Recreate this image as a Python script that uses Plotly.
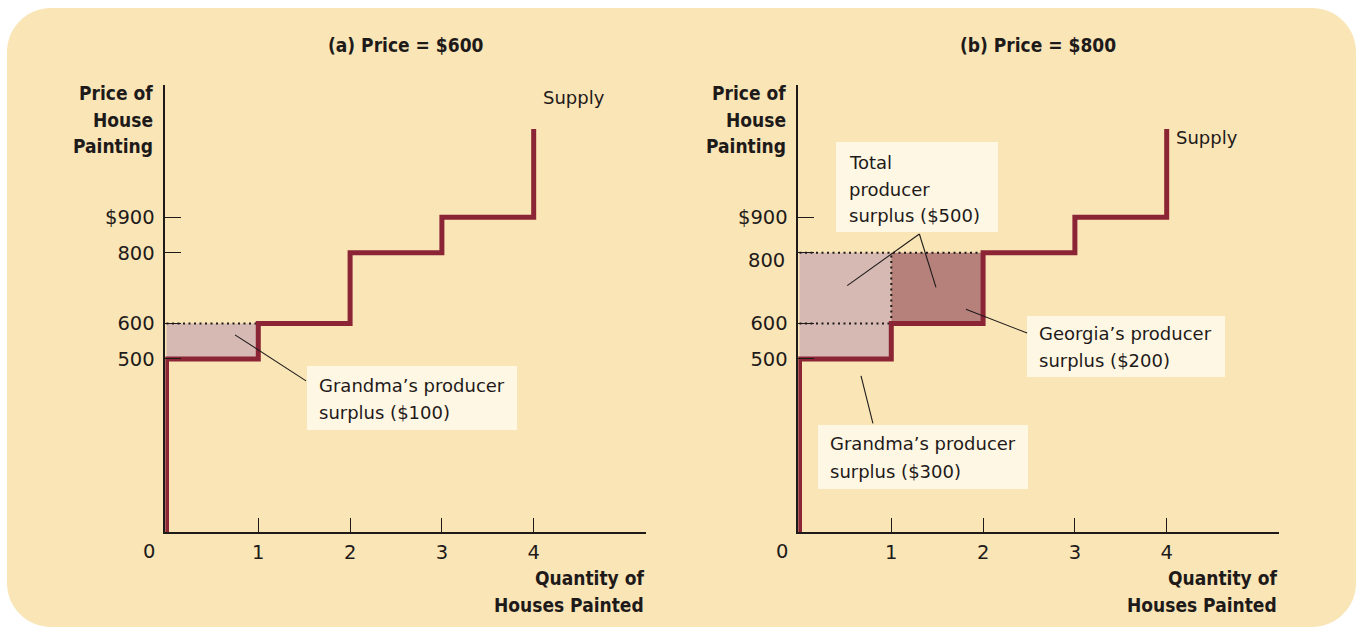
import plotly.graph_objects as go

W, H = 1358, 628

# ---- data -------------------------------------------------------------
sellers = ["Grandma", "Georgia", "Julie", "Mary"]
costs = [500, 600, 800, 900]          # each seller's cost of painting one house
supply_top = 1150                     # where the drawn supply curve stops
market_prices = [600, 800]            # price in panel (a) and panel (b)
panel_titles = ["(a) Price = $600", "(b) Price = $800"]
quantity_ticks = [1, 2, 3, 4]
price_ticks = [500, 600, 800, 900]
price_tick_text = ["500", "600", "800", "$900"]

# ---- styling ----------------------------------------------------------
BEIGE = "#f9e5b6"
CREAM = "#fef7e3"
MAROON = "#8b2535"
FILLS = ["#d6b9b3", "#b6817b"]
INK = "#1e1a1a"
REG = "DejaVu Sans, Verdana, sans-serif"
BOLD = "DejaVu Sans Condensed, DejaVu Sans, Arial, sans-serif"
TICK_SIZE = 19.5


def fx(px):
    return px / W


def fy(py):
    return 1 - py / H


# pixel geometry of the two plotting panels
panel_left = [165.3, 798.3]
panel_width = 480.2
panel_top, panel_bottom = 85, 532.3

fig = go.Figure()

# supply step curve built from sellers' costs
sx, sy = [0], [0]
for i, c in enumerate(costs):
    nxt = costs[i + 1] if i + 1 < len(costs) else supply_top
    sx += [0 if i == 0 else i, i + 1, i + 1]
    sy += [c, c, nxt]

for p, price in enumerate(market_prices):
    xa = "x" if p == 0 else "x2"
    ya = "y" if p == 0 else "y2"
    selling = [i for i, c in enumerate(costs) if c < price]
    # producer-surplus rectangles
    for i in selling:
        fig.add_trace(go.Scatter(
            x=[i, i + 1, i + 1, i, i], y=[costs[i], costs[i], price, price, costs[i]],
            mode="lines", fill="toself", fillcolor=FILLS[i % 2],
            line=dict(width=0), hoverinfo="skip", showlegend=False,
            xaxis=xa, yaxis=ya))
    # dotted outlines of the surplus areas
    n = len(selling)
    dots = [([0, n], [price, price])]
    for i in selling[1:]:
        dots.append(([0, i], [costs[i], costs[i]]))
        dots.append(([i, i], [costs[i], price]))
    for dx, dy in dots:
        fig.add_trace(go.Scatter(
            x=dx, y=dy, mode="lines",
            line=dict(color=INK, width=2, dash="2px,3.5px"),
            hoverinfo="skip", showlegend=False, xaxis=xa, yaxis=ya))
    # supply curve
    fig.add_trace(go.Scatter(
        x=sx, y=sy, mode="lines", line=dict(color=MAROON, width=5),
        hoverinfo="skip", showlegend=False, xaxis=xa, yaxis=ya))

axis_common = dict(
    showline=True, linecolor=INK, linewidth=1.5, showgrid=False, zeroline=False,
    ticks="inside", tickcolor=INK, tickwidth=1.3,
    tickfont=dict(family=REG, size=TICK_SIZE, color=INK), fixedrange=True,
)

layout_axes = {}
for p in range(2):
    sfx = "" if p == 0 else "2"
    layout_axes["xaxis" + sfx] = dict(
        axis_common, domain=[fx(panel_left[p]), fx(panel_left[p] + panel_width)],
        range=[-0.013, 5.218], tickvals=quantity_ticks, ticklen=15,
        ticklabelstandoff=2, anchor="y" + sfx)
    ytext = list(price_tick_text)
    if p == 1:
        ytext[2] = ""
    layout_axes["yaxis" + sfx] = dict(
        axis_common, domain=[fy(panel_bottom), fy(panel_top)],
        range=[10, 1274], tickvals=price_ticks, ticktext=ytext, ticklen=16,
        ticklabelstandoff=5, anchor="x" + sfx)

# ---- decorations --------------------------------------------------------
def rounded_rect(x0, y0, x1, y1, r):
    k = 0.5523 * r
    pts = [
        f"M{fx(x0 + r)},{fy(y0)}",
        f"L{fx(x1 - r)},{fy(y0)}",
        f"C{fx(x1 - r + k)},{fy(y0)} {fx(x1)},{fy(y0 + r - k)} {fx(x1)},{fy(y0 + r)}",
        f"L{fx(x1)},{fy(y1 - r)}",
        f"C{fx(x1)},{fy(y1 - r + k)} {fx(x1 - r + k)},{fy(y1)} {fx(x1 - r)},{fy(y1)}",
        f"L{fx(x0 + r)},{fy(y1)}",
        f"C{fx(x0 + r - k)},{fy(y1)} {fx(x0)},{fy(y1 - r + k)} {fx(x0)},{fy(y1 - r)}",
        f"L{fx(x0)},{fy(y0 + r)}",
        f"C{fx(x0)},{fy(y0 + r - k)} {fx(x0 + r - k)},{fy(y0)} {fx(x0 + r)},{fy(y0)}",
        "Z",
    ]
    return " ".join(pts)


shapes = [dict(type="path", xref="paper", yref="paper", layer="below",
               path=rounded_rect(7, 8, 1356, 627, 44),
               fillcolor=BEIGE, line=dict(width=0))]

annotations = []


def text(px, py, s, size=18, family=REG, anchor="left", color=INK):
    annotations.append(dict(
        x=fx(px), y=fy(py), xref="paper", yref="paper", text=s, showarrow=False,
        xanchor=anchor, yanchor="middle",
        font=dict(family=family, size=size, color=color)))


def label_box(x0, y0, x1, y1, lines, tx, ty0, step=27):
    shapes.append(dict(type="rect", xref="paper", yref="paper", layer="above",
                       x0=fx(x0), x1=fx(x1), y0=fy(y0), y1=fy(y1),
                       fillcolor=CREAM, line=dict(width=0)))
    for k, s in enumerate(lines):
        text(tx, ty0 + k * step, s)


def leader(ax, x0, y0, x1, y1):
    shapes.append(dict(type="line", xref=ax[0], yref=ax[1], x0=x0, y0=y0,
                       x1=x1, y1=y1, line=dict(color=INK, width=1.1)))


title_centers = [406, 1038]
for p in range(2):
    off = panel_left[p] - panel_left[0]
    # panel title
    text(title_centers[p], 45, f"<b>{panel_titles[p]}</b>",
         size=19, family=BOLD, anchor="center")
    # axis titles
    for k, s in enumerate(["Price of", "House", "Painting"]):
        text(155 + off, 92.5 + k * 27, f"<b>{s}</b>", size=19, family=BOLD, anchor="right")
    for k, s in enumerate(["Quantity of", "Houses Painted"]):
        text(646 + off, 578 + k * 27, f"<b>{s}</b>", size=19, family=BOLD, anchor="right")
    # origin label
    text(149 + off, 551, "0", size=TICK_SIZE, anchor="center")

# supply labels
for ax, yv in (("", 1240), ("2", 1127)):
    annotations.append(dict(x=4.08, y=yv, xref="x" + ax, yref="y" + ax, text="Supply",
                            showarrow=False, xanchor="left", yanchor="middle",
                            font=dict(family=REG, size=18, color=INK)))
# panel (b) "800" sits just under its dotted price line
annotations.append(dict(x=fx(154 + 633), y=800, xref="paper", yref="y2", text="800",
                        showarrow=False, xanchor="right", yanchor="middle", yshift=-8,
                        font=dict(family=REG, size=TICK_SIZE, color=INK)))

# surplus amounts computed from the data
surplus_a = {sellers[i]: market_prices[0] - c for i, c in enumerate(costs) if c < market_prices[0]}
surplus_b = {sellers[i]: market_prices[1] - c for i, c in enumerate(costs) if c < market_prices[1]}
total_b = sum(surplus_b.values())

label_box(307, 366, 517, 430,
          ["Grandma\u2019s producer", f"surplus (${surplus_a['Grandma']})"], 317, 385)
leader(("x", "y"), 0.746, 568, 1.52, 438)

label_box(836, 142, 998, 232, ["Total", "producer", f"surplus (${total_b})"], 847, 162)
leader(("x2", "y2"), 1.306, 853, 0.52, 707)
leader(("x2", "y2"), 1.306, 853, 1.487, 702)

label_box(1027, 316, 1225, 377,
          ["Georgia\u2019s producer", f"surplus (${surplus_b['Georgia']})"], 1037, 333)
leader(("x2", "y2"), 1.813, 640, 2.48, 573)

label_box(818, 425, 1028, 489,
          ["Grandma\u2019s producer", f"surplus (${surplus_b['Grandma']})"], 828, 444)
leader(("x2", "y2"), 0.67, 452, 0.80, 318)

fig.update_layout(
    width=W, height=H, margin=dict(l=0, r=0, t=0, b=0),
    paper_bgcolor="white", plot_bgcolor="white", showlegend=False,
    shapes=shapes, annotations=annotations, **layout_axes)

fig.write_html("out.html", config=dict(displayModeBar=False))
